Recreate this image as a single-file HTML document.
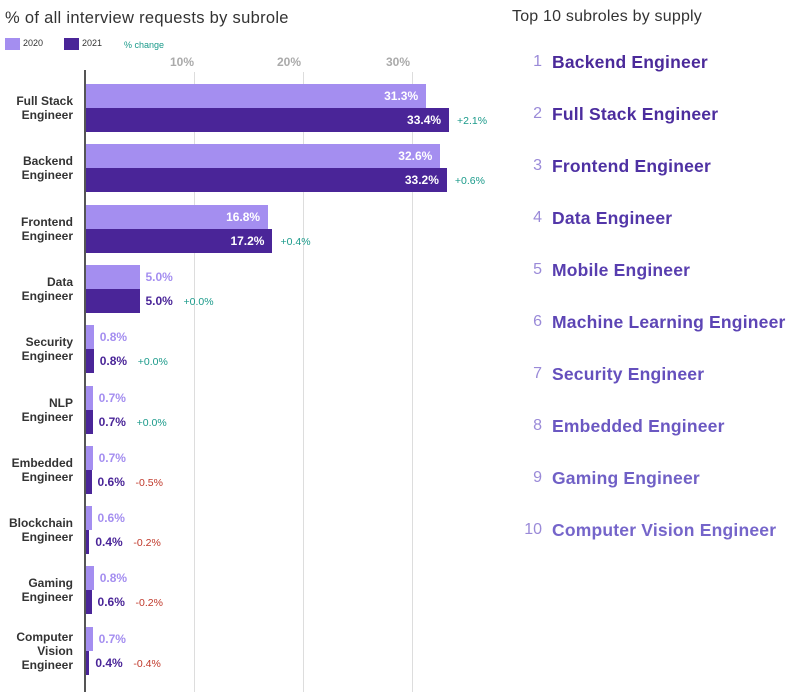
<!DOCTYPE html><html><head><style>
body{margin:0;width:799px;height:696px;background:#fff;font-family:"Liberation Sans",sans-serif;position:relative;overflow:hidden}
.a{position:absolute;white-space:nowrap}
.cat{position:absolute;right:726px;text-align:right;font-size:12px;font-weight:bold;color:#333;line-height:14px}
.b{position:absolute;left:85px;height:24px}
.v{position:absolute;font-size:12px;font-weight:bold;line-height:24px}
.c{position:absolute;font-size:10.5px;line-height:24px}
.n{position:absolute;width:30px;left:512px;text-align:right;font-size:16px;color:#9a8ad8}
.t{position:absolute;left:552px;font-size:17.5px;font-weight:bold;letter-spacing:0.2px}
</style></head><body>
<div class="a" style="left:5px;top:9px;font-size:16.5px;color:#333;letter-spacing:0.3px">% of all interview requests by subrole</div>
<div class="a" style="left:5px;top:38px;width:15px;height:12px;background:#a48ef0"></div>
<div class="a" style="left:23px;top:38px;font-size:9px;color:#333">2020</div>
<div class="a" style="left:64px;top:38px;width:15px;height:12px;background:#4a2598"></div>
<div class="a" style="left:82px;top:38px;font-size:9px;color:#333">2021</div>
<div class="a" style="left:124px;top:40px;font-size:9px;color:#1a9a8a">% change</div>
<div class="a" style="left:170px;top:55px;font-size:12px;font-weight:bold;color:#aaa">10%</div>
<div class="a" style="left:277px;top:55px;font-size:12px;font-weight:bold;color:#aaa">20%</div>
<div class="a" style="left:386px;top:55px;font-size:12px;font-weight:bold;color:#aaa">30%</div>
<div class="a" style="left:194px;top:72px;width:1px;height:620px;background:#ddd"></div>
<div class="a" style="left:303px;top:72px;width:1px;height:620px;background:#ddd"></div>
<div class="a" style="left:412px;top:72px;width:1px;height:620px;background:#ddd"></div>
<div id="rows"></div>
<div class="a" style="left:84px;top:70px;width:2px;height:622px;background:#555"></div>
<div class="a" style="left:512px;top:8px;font-size:16px;color:#333;letter-spacing:0.2px">Top 10 subroles by supply</div>
<div id="top"></div>
<script>
var d=[["Full Stack<br>Engineer",31.3,33.4,"+2.1%"],["Backend<br>Engineer",32.6,33.2,"+0.6%"],["Frontend<br>Engineer",16.8,17.2,"+0.4%"],["Data<br>Engineer",5.0,5.0,"+0.0%"],["Security<br>Engineer",0.8,0.8,"+0.0%"],["NLP<br>Engineer",0.7,0.7,"+0.0%"],["Embedded<br>Engineer",0.7,0.6,"-0.5%"],["Blockchain<br>Engineer",0.6,0.4,"-0.2%"],["Gaming<br>Engineer",0.8,0.6,"-0.2%"],["Computer<br>Vision<br>Engineer",0.7,0.4,"-0.4%"]];
var h="",s=10.9;
d.forEach(function(r,i){var y=84+i*60.3;var lines=r[0].split("<br>").length;
h+='<div class="cat" style="top:'+(y+24-lines*7)+'px">'+r[0]+'</div>';
[[r[1],"#a48ef0","#a48ef0",y],[r[2],"#4a2598","#4a2598",y+24]].forEach(function(b,j){var w=b[0]*s;
h+='<div class="b" style="top:'+b[3]+'px;width:'+w+'px;background:'+b[1]+'"></div>';
var ex;
if(w>60){h+='<div class="v" style="top:'+b[3]+'px;left:'+(85+w-60)+'px;width:52px;text-align:right;color:#fff">'+b[0].toFixed(1)+'%</div>';ex=85+w+8;}
else{h+='<div class="v" style="top:'+b[3]+'px;left:'+(85+w+6)+'px;color:'+(j?"#4a2598":"#a48ef0")+'">'+b[0].toFixed(1)+'%</div>';ex=85+w+44;}
if(j)h+='<div class="c" style="top:'+(b[3]+1)+'px;left:'+ex+'px;color:'+(r[3][0]=="-"?"#c0392b":"#1a9a8a")+'">'+r[3]+'</div>';});});
document.getElementById("rows").innerHTML=h;
var t=["Backend Engineer","Full Stack Engineer","Frontend Engineer","Data Engineer","Mobile Engineer","Machine Learning Engineer","Security Engineer","Embedded Engineer","Gaming Engineer","Computer Vision Engineer"];
var cs=["#4b2a9a","#4c2d9e","#4e31a3","#5337a9","#583eaf","#5d45b5","#6550bd","#6b58c2","#7060c6","#7565ca"];
h="";t.forEach(function(n,i){var y=53+i*52;h+='<div class="n" style="top:'+y+'px">'+(i+1)+'</div><div class="t" style="top:'+(y-1)+'px;color:'+cs[i]+'">'+n+'</div>';});
document.getElementById("top").innerHTML=h;
</script></body></html>
